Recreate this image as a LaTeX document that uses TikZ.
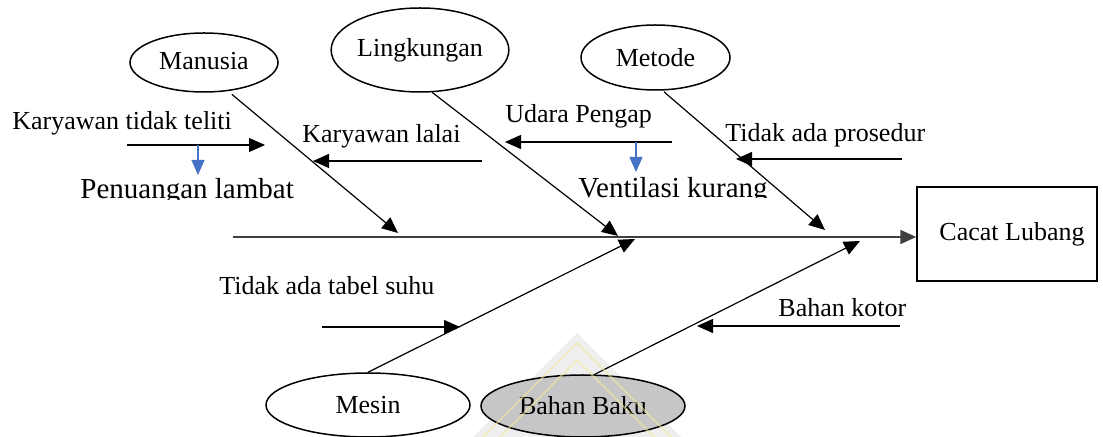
\documentclass[tikz,border=0pt]{standalone}
\usepackage{fontspec}
\setmainfont{Liberation Serif}
\usetikzlibrary{arrows.meta,shapes.geometric,calc}
\definecolor{effectblue}{HTML}{4472C4}
\definecolor{markgray}{HTML}{EFEFEF}
\definecolor{markyellow}{HTML}{F2EC9A}
\definecolor{fillgray}{HTML}{C6C6C6}
\begin{document}
\begin{tikzpicture}[x=0.5pt,y=-0.5pt,
  txt/.style={font=\fontsize{13}{15}\selectfont},
  bigtxt/.style={font=\fontsize{14.5}{17}\selectfont},
  cause/.style={ellipse,draw,line width=0.75pt,inner sep=0pt,txt},
  lbl/.style={anchor=base west,inner sep=0pt,txt},
  biglbl/.style={anchor=base west,inner sep=0pt,bigtxt},
  tip/.style={-{Triangle[length=8pt,width=7pt]}},
  bone/.style={line width=0.6pt,tip},
  sub/.style={line width=0.6pt,tip},
  effect/.style={draw=effectblue,line width=0.6pt,-{Triangle[length=7.5pt,width=6.5pt]},effectblue},
  spine/.style={draw=black!75,line width=1pt,tip},
  emblemstripe/.style={draw=markyellow,line width=1pt,opacity=0.55}]

\useasboundingbox (0,0) rectangle (1103,437);

% faint emblem behind the lower bones
\fill[markgray] (577,333) -- (681,437) -- (473,437) -- cycle;

% problem box and spine
\node[draw,line width=0.75pt,minimum width=90pt,minimum height=47pt,inner sep=0pt,txt]
  (box) at (1007,234) {\hspace{5pt}Cacat Lubang};
\coordinate (spinestart) at (233,237);
\draw[spine] (spinestart) -- (spinestart -| box.west);

% main causes
\node[cause,minimum width=74pt,minimum height=29.5pt] (man) at (204,62.5) {\raisebox{2pt}{Manusia}};
\node[cause,minimum width=79.5pt,minimum height=42pt] (lin) at (420,50) {Lingkungan};
\node[cause,minimum width=74.5pt,minimum height=32.5pt] (met) at (655.5,57.5) {Metode};
\node[cause,minimum width=102pt,minimum height=32pt] (mes) at (368,405) {\raisebox{-1.5pt}{Mesin}};
\node[cause,fill=fillgray,minimum width=102pt,minimum height=31pt] (bb) at (583,406) {\raisebox{1pt}{Bahan Baku}};

% bone ends on the spine
\coordinate (tman) at (398,233);
\coordinate (tlin) at (618,236);
\coordinate (tmet) at (825,230);
\coordinate (tmes) at (635,239);
\coordinate (tbb) at (860,241);

\draw[bone,shorten <=2.5pt] (man.-50) -- (tman);
\draw[bone] (lin.-74) -- (tlin);
\draw[bone,shorten <=1pt] (met.-78) -- (tmet);
\draw[bone] (mes.north) -- (tmes);
\draw[bone] (bb.70) -- (tbb);

% sub-causes
\node[lbl] (s1) at (12,130) {Karyawan tidak teliti};
\coordinate (s1a) at (127,145); \coordinate (s1b) at (265,145);
\draw[sub] (s1a) -- (s1b);
\coordinate (e1a) at (198,145); \coordinate (e1b) at (198,175);
\draw[effect] (e1a) -- (e1b);
\begin{scope}
  \clip (60,160) rectangle (320,200);
  \node[biglbl] (e1) at (80,199) {Penuangan lambat};
\end{scope}

\node[lbl] (s2) at (302,143) {Karyawan lalai};
\coordinate (s2a) at (482,161); \coordinate (s2b) at (313,161);
\draw[sub] (s2a) -- (s2b);

\node[lbl] (s3) at (505,123) {Udara Pengap};
\coordinate (s3a) at (672,142); \coordinate (s3b) at (505,142);
\draw[sub] (s3a) -- (s3b);
\coordinate (e3a) at (636,142); \coordinate (e3b) at (636,172);
\draw[effect] (e3a) -- (e3b);
\begin{scope}
  \clip (560,160) rectangle (790,198);
  \node[biglbl] (e3) at (578,198) {Ventilasi kurang};
\end{scope}

\node[lbl] (s4) at (725,142) {Tidak ada prosedur};
\coordinate (s4a) at (902,159); \coordinate (s4b) at (736,159);
\draw[sub] (s4a) -- (s4b);

\node[lbl] (s5) at (219,295) {Tidak ada tabel suhu};
\coordinate (s5a) at (322,327); \coordinate (s5b) at (460,327);
\draw[sub] (s5a) -- (s5b);

\node[lbl] (s6) at (778,317) {Bahan kotor};
\coordinate (s6a) at (900,326); \coordinate (s6b) at (697,326);
\draw[sub] (s6a) -- (s6b);

% emblem stripes drawn over the lower causes
\draw[emblemstripe] (480,440) -- (577,343) -- (674,440);
\draw[emblemstripe] (497,440) -- (577,360) -- (657,440);
\end{tikzpicture}
\end{document}
